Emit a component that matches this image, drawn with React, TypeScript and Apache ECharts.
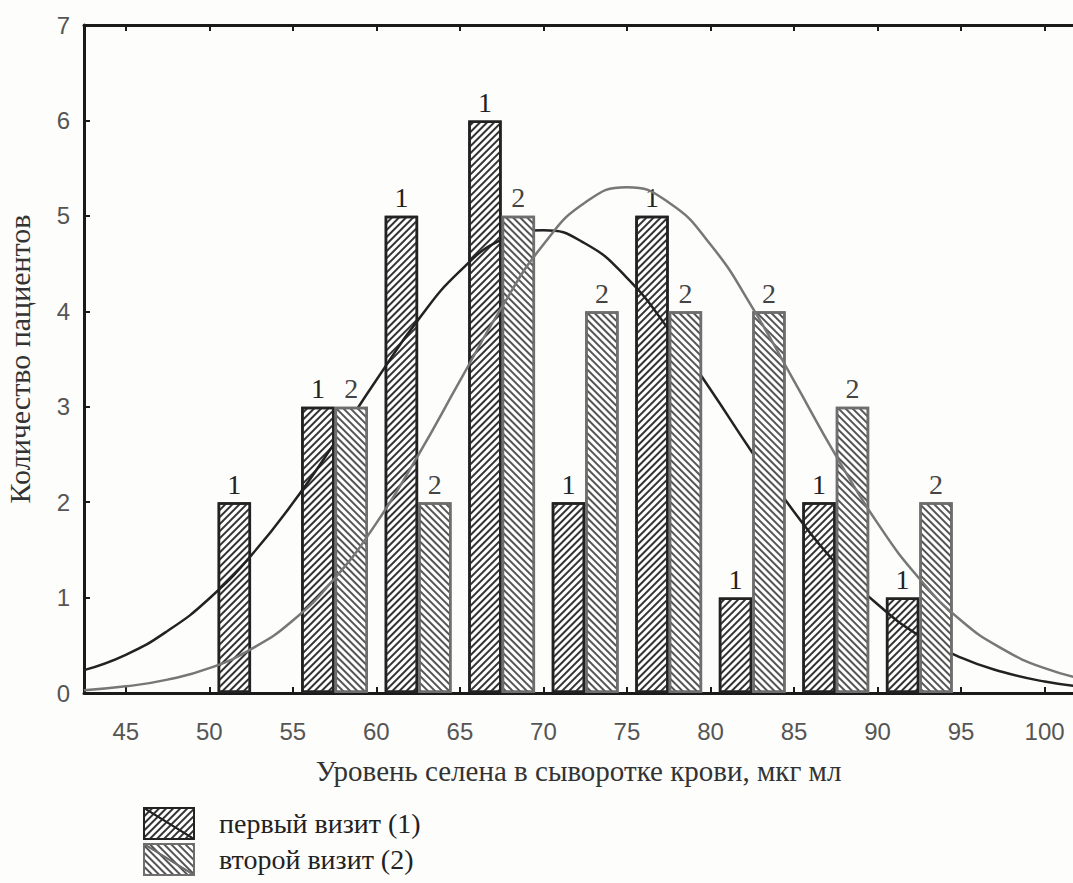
import React, { useEffect, useRef } from "react";
import * as echarts from "echarts";

// Histogram bins (start of each 5-unit bin)
const binStarts = [50, 55, 60, 65, 70, 75, 80, 85, 90];
const visit1Counts = [2, 3, 5, 6, 2, 5, 1, 2, 1];
const visit2Counts = [0, 3, 2, 5, 4, 4, 4, 3, 2];

// Fitted curves
const curveX = [42.5, 45, 47.5, 50, 52.5, 55, 57.5, 60, 62.5, 65, 67.5, 70, 72.5, 75, 77.5, 80, 82.5, 85, 87.5, 90, 92.5, 95, 97.5, 100, 102.5];
const curve1 = [0.24, 0.4, 0.65, 0.99, 1.44, 1.99, 2.62, 3.28, 3.91, 4.42, 4.75, 4.85, 4.71, 4.35, 3.81, 3.18, 2.52, 1.9, 1.36, 0.93, 0.6, 0.37, 0.22, 0.12, 0.06];
const curve2 = [0.03, 0.07, 0.14, 0.26, 0.46, 0.76, 1.2, 1.78, 2.49, 3.27, 4.04, 4.7, 5.14, 5.3, 5.14, 4.7, 4.04, 3.27, 2.49, 1.78, 1.2, 0.76, 0.46, 0.26, 0.14];

const xTicks = [45, 50, 55, 60, 65, 70, 75, 80, 85, 90, 95, 100];
const xMin = 42.5;
const xMax = 101.7;

const seriesNames = ["первый визит (1)", "второй визит (2)"];
const xName = "Уровень селена в сыворотке крови, мкг мл";
const yName = "Количество пациентов";

const W = 1073;
const H = 883;
const GRID = { left: 84, top: 25, right: 0, bottom: 190 };

export default function App() {
  const ref = useRef<HTMLDivElement>(null);
  useEffect(() => {
    if (!ref.current) return;
    const chart = echarts.init(ref.current, null, { renderer: "svg" });
    const unitPx = (W - GRID.left - GRID.right) / (xMax - xMin);
    const barW = 2 * unitPx;

    const s1Data = binStarts.map((b, i) => [b + 1.5, visit1Counts[i]]).filter((d) => d[1] > 0);
    const s2Data = binStarts.map((b, i) => [b + 3.5, visit2Counts[i]]).filter((d) => d[1] > 0);

    const serif = "Liberation Serif";
    const sans = "Liberation Sans";
    const legendIcon = "path://M0,0H50V31H0Z M0,0L50,31";

    const axisCommon = {
      type: "value" as const,
      min: xMin,
      max: xMax,
      splitLine: { show: false },
      axisLine: { show: true, onZero: false, lineStyle: { color: "#1a1a1a", width: 3 } },
      axisTick: { show: true, inside: true, length: 6, lineStyle: { color: "#1a1a1a", width: 2 }, customValues: xTicks },
    };

    chart.setOption({
      animation: false,
      backgroundColor: "#fdfdfb",
      grid: { ...GRID, containLabel: false, outerBoundsMode: "none" },
      legend: {
        data: seriesNames.map((n) => ({ name: n, icon: legendIcon })),
        orient: "vertical",
        left: 143,
        top: 807,
        padding: 0,
        itemWidth: 50,
        itemHeight: 31,
        itemGap: 3,
        textStyle: { fontFamily: serif, fontSize: 28, color: "#222", padding: [0, 0, 0, 20] },
      },
      xAxis: [
        {
          ...axisCommon,
          position: "bottom",
          axisLabel: { customValues: xTicks, fontFamily: sans, fontSize: 24, color: "#555", margin: 26 },
          name: xName,
          nameLocation: "middle",
          nameGap: 63,
          nameTextStyle: { fontFamily: serif, fontSize: 29, color: "#333" },
        },
        {
          ...axisCommon,
          position: "top",
          axisLabel: { show: false },
        },
      ],
      yAxis: {
        type: "value",
        min: 0,
        max: 7,
        interval: 1,
        splitLine: { show: false },
        axisLine: { show: true, lineStyle: { color: "#1a1a1a", width: 3 } },
        axisTick: { show: true, inside: true, length: 6, lineStyle: { color: "#1a1a1a", width: 2 } },
        axisLabel: { fontFamily: sans, fontSize: 24, color: "#555", margin: 14 },
        name: yName,
        nameLocation: "middle",
        nameGap: 50,
        nameRotate: 90,
        nameTextStyle: { fontFamily: serif, fontSize: 30, color: "#333" },
      },
      series: [
        {
          name: seriesNames[0],
          type: "bar",
          xAxisIndex: 0,
          barWidth: barW,
          barGap: "-100%",
          z: 2,
          data: s1Data,
          itemStyle: {
            color: "#ffffff",
            borderColor: "#222",
            borderWidth: 2.5,
            decal: {
              symbol: "rect",
              symbolSize: 1,
              dashArrayX: [1, 0],
              dashArrayY: [1.3, 3],
              rotation: -Math.PI / 4,
              color: "#333",
              backgroundColor: "#ffffff",
            },
          },
          label: {
            show: true,
            position: "top",
            distance: 4,
            formatter: "1",
            fontFamily: serif,
            fontSize: 28,
            color: "#222",
          },
        },
        {
          name: "curve1",
          type: "line",
          xAxisIndex: 0,
          z: 3,
          smooth: true,
          showSymbol: false,
          silent: true,
          data: curveX.map((x, i) => [x, curve1[i]]),
          lineStyle: { color: "#222", width: 2.5 },
        },
        {
          name: seriesNames[1],
          type: "bar",
          xAxisIndex: 0,
          barWidth: barW,
          barGap: "-100%",
          z: 4,
          data: s2Data,
          itemStyle: {
            color: "#ffffff",
            borderColor: "#6e6e6e",
            borderWidth: 2.5,
            decal: {
              symbol: "rect",
              symbolSize: 1,
              dashArrayX: [1, 0],
              dashArrayY: [1.3, 3],
              rotation: Math.PI / 4,
              color: "#555",
              backgroundColor: "#ffffff",
            },
          },
          label: {
            show: true,
            position: "top",
            distance: 4,
            formatter: "2",
            fontFamily: serif,
            fontSize: 28,
            color: "#444",
          },
        },
        {
          name: "curve2",
          type: "line",
          xAxisIndex: 0,
          z: 5,
          smooth: true,
          showSymbol: false,
          silent: true,
          data: curveX.map((x, i) => [x, curve2[i]]),
          lineStyle: { color: "#777", width: 2.5 },
        },
      ],
    });
    return () => chart.dispose();
  }, []);
  return <div ref={ref} style={{ position: "fixed", left: 0, top: 0, width: W, height: H }} />;
}
